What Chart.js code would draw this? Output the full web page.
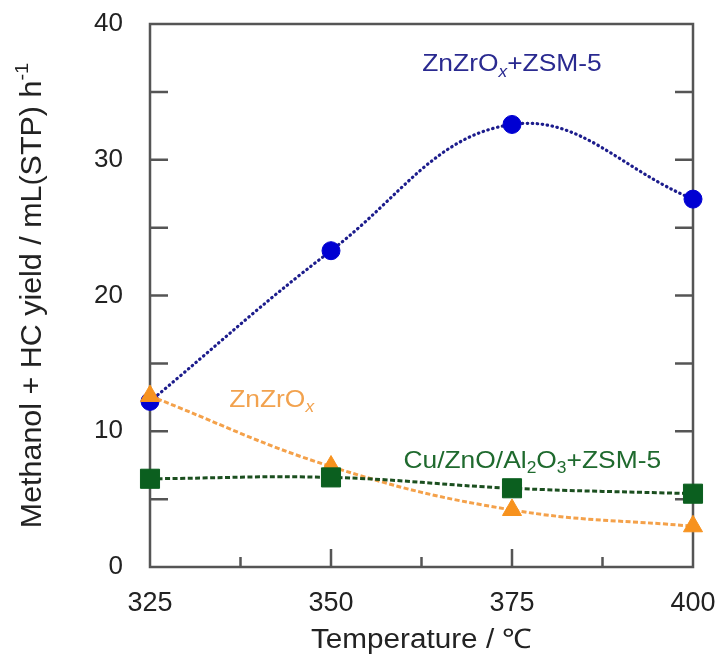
<!DOCTYPE html>
<html>
<head>
<meta charset="utf-8">
<script src="https://cdn.jsdelivr.net/npm/chart.js@4.4.0/dist/chart.umd.min.js"></script>
<style>
html, body { margin: 0; padding: 0; background: #fff; }
#wrap { width: 719px; height: 658px; }
</style>
</head>
<body>
<div id="wrap"><canvas id="chart" width="719" height="658"></canvas></div>
<script>
// temperatures (°C) and yields
var temperatures = [325, 350, 375, 400];
var yieldZnZrZsm = [12.2, 23.3, 32.6, 27.1];
var yieldZnZr = [12.6, 7.4, 4.2, 3.0];
var yieldCuZnAlZsm = [6.5, 6.6, 5.8, 5.4];

var xMajorTicks = [325, 350, 375, 400];
var xMinorTicks = [337.5, 362.5, 387.5];
var yTickValues = [0, 5, 10, 15, 20, 25, 30, 35, 40];

var FONT = '"Liberation Sans", Arial, Helvetica, sans-serif';

function toPoints(ys) {
    return temperatures.map(function(t, i) { return { x: t, y: ys[i] }; });
}

// text with sub/superscript pieces, sx = horizontal stretch
function drawRich(ctx, parts, x, y, size, color, sx) {
    sx = sx || 1;
    var total = 0;
    parts.forEach(function(p) {
        var s = p.sub || p.sup ? size * 0.66 : size;
        ctx.font = (p.italic ? 'italic ' : '') + s + 'px ' + FONT;
        p._w = ctx.measureText(p.t).width;
        total += p._w;
    });
    ctx.save();
    ctx.translate(x, y);
    ctx.scale(sx, 1);
    var cx = -total / 2;
    ctx.fillStyle = color;
    ctx.textBaseline = 'middle';
    ctx.textAlign = 'left';
    parts.forEach(function(p) {
        var s = p.sub || p.sup ? size * 0.66 : size;
        var dy = p.sub ? size * 0.32 : (p.sup ? -size * 0.36 : 0);
        ctx.font = (p.italic ? 'italic ' : '') + s + 'px ' + FONT;
        ctx.fillText(p.t, cx, dy);
        cx += p._w;
    });
    ctx.restore();
}

var framePlugin = {
    id: 'frame',
    beforeDatasetsDraw: function(chart) {
        var ctx = chart.ctx, a = chart.chartArea;
        var xs = chart.scales.x, ys = chart.scales.y;
        ctx.save();
        ctx.strokeStyle = '#555';
        ctx.lineWidth = 2.5;
        ctx.strokeRect(a.left, a.top, a.right - a.left, a.bottom - a.top);
        ctx.beginPath();
        yTickValues.forEach(function(v) {
            if (v === 0 || v === 40) return;
            var py = ys.getPixelForValue(v);
            ctx.moveTo(a.left, py); ctx.lineTo(a.left + 18, py);
            ctx.moveTo(a.right, py); ctx.lineTo(a.right - 18, py);
        });
        xMajorTicks.forEach(function(v) {
            if (v === 325 || v === 400) return;
            var px = xs.getPixelForValue(v);
            ctx.moveTo(px, a.bottom); ctx.lineTo(px, a.bottom - 18);
        });
        xMinorTicks.forEach(function(v) {
            var px = xs.getPixelForValue(v);
            ctx.moveTo(px, a.bottom); ctx.lineTo(px, a.bottom - 10);
        });
        ctx.stroke();
        ctx.restore();
    },
    afterDraw: function(chart) {
        var ctx = chart.ctx, a = chart.chartArea;
        var xs = chart.scales.x, ys = chart.scales.y;
        ctx.save();
        drawRich(ctx, [{ t: 'ZnZrO' }, { t: 'x', sub: true, italic: true }, { t: '+ZSM-5' }],
            xs.getPixelForValue(375), ys.getPixelForValue(37.0), 24, '#2a2a90', 1.1);
        drawRich(ctx, [{ t: 'ZnZrO' }, { t: 'x', sub: true, italic: true }],
            xs.getPixelForValue(341.8), ys.getPixelForValue(12.3), 24, '#f2a24e', 1.1);
        drawRich(ctx, [{ t: 'Cu/ZnO/Al' }, { t: '2', sub: true }, { t: 'O' }, { t: '3', sub: true }, { t: '+ZSM-5' }],
            xs.getPixelForValue(377.8), ys.getPixelForValue(7.8), 24, '#1f6a2e', 1.1);
        // axis titles
        drawRich(ctx, [{ t: 'Temperature / \u2103' }], (a.left + a.right) / 2, 641, 27, '#222', 1.1);
        ctx.translate(33, (a.top + a.bottom) / 2);
        ctx.rotate(-Math.PI / 2);
        drawRich(ctx, [{ t: 'Methanol + HC yield / mL(STP) h' }, { t: '-1', sup: true }], 0, 0, 29, '#222', 1.05);
        ctx.restore();
    }
};

new Chart(document.getElementById('chart'), {
    type: 'line',
    data: {
        datasets: [
            {
                label: 'ZnZrOx+ZSM-5',
                data: toPoints(yieldZnZrZsm),
                borderColor: '#1c1c8c',
                borderWidth: 3.2,
                borderDash: [0.5, 4.5],
                borderCapStyle: 'round',
                tension: 0.4,
                pointStyle: 'circle',
                pointRadius: 9,
                pointBackgroundColor: '#0000d2',
                pointBorderColor: '#0000d2',
                pointBorderWidth: 1,
                clip: false,
                order: 3
            },
            {
                label: 'ZnZrOx',
                data: toPoints(yieldZnZr),
                borderColor: '#f4a14a',
                borderWidth: 3,
                borderDash: [5, 2.5],
                tension: 0.4,
                pointStyle: 'triangle',
                pointRadius: 11,
                pointBackgroundColor: '#f7921e',
                pointBorderColor: '#f7921e',
                pointBorderWidth: 1,
                clip: false,
                order: 2
            },
            {
                label: 'Cu/ZnO/Al2O3+ZSM-5',
                data: toPoints(yieldCuZnAlZsm),
                borderColor: '#1b4f1f',
                borderWidth: 3,
                borderDash: [5, 2.5],
                tension: 0.4,
                pointStyle: 'rect',
                pointRadius: 13.5,
                pointBackgroundColor: '#0b5f1f',
                pointBorderColor: '#0b5f1f',
                pointBorderWidth: 1,
                clip: false,
                order: 1
            }
        ]
    },
    options: {
        responsive: false,
        animation: false,
        layout: { padding: { left: 0, right: 26, top: 24, bottom: 0 } },
        plugins: {
            legend: { display: false },
            tooltip: { enabled: false }
        },
        scales: {
            x: {
                type: 'linear',
                min: 325,
                max: 400,
                border: { display: false },
                grid: { display: false, drawTicks: false },
                ticks: {
                    stepSize: 25,
                    padding: 20,
                    color: '#222',
                    font: { size: 27, family: FONT }
                },
                afterFit: function(scale) {
                    scale.height = 91;
                    scale.paddingLeft = 0;
                    scale.paddingRight = 0;
                }
            },
            y: {
                min: 0,
                max: 40,
                border: { display: false },
                grid: { display: false, drawTicks: false },
                ticks: {
                    stepSize: 10,
                    padding: 27,
                    color: '#222',
                    font: { size: 26, family: FONT }
                },
                afterFit: function(scale) {
                    scale.width = 150;
                    scale.paddingTop = 0;
                    scale.paddingBottom = 0;
                }
            }
        }
    },
    plugins: [framePlugin]
});
</script>
</body>
</html>
